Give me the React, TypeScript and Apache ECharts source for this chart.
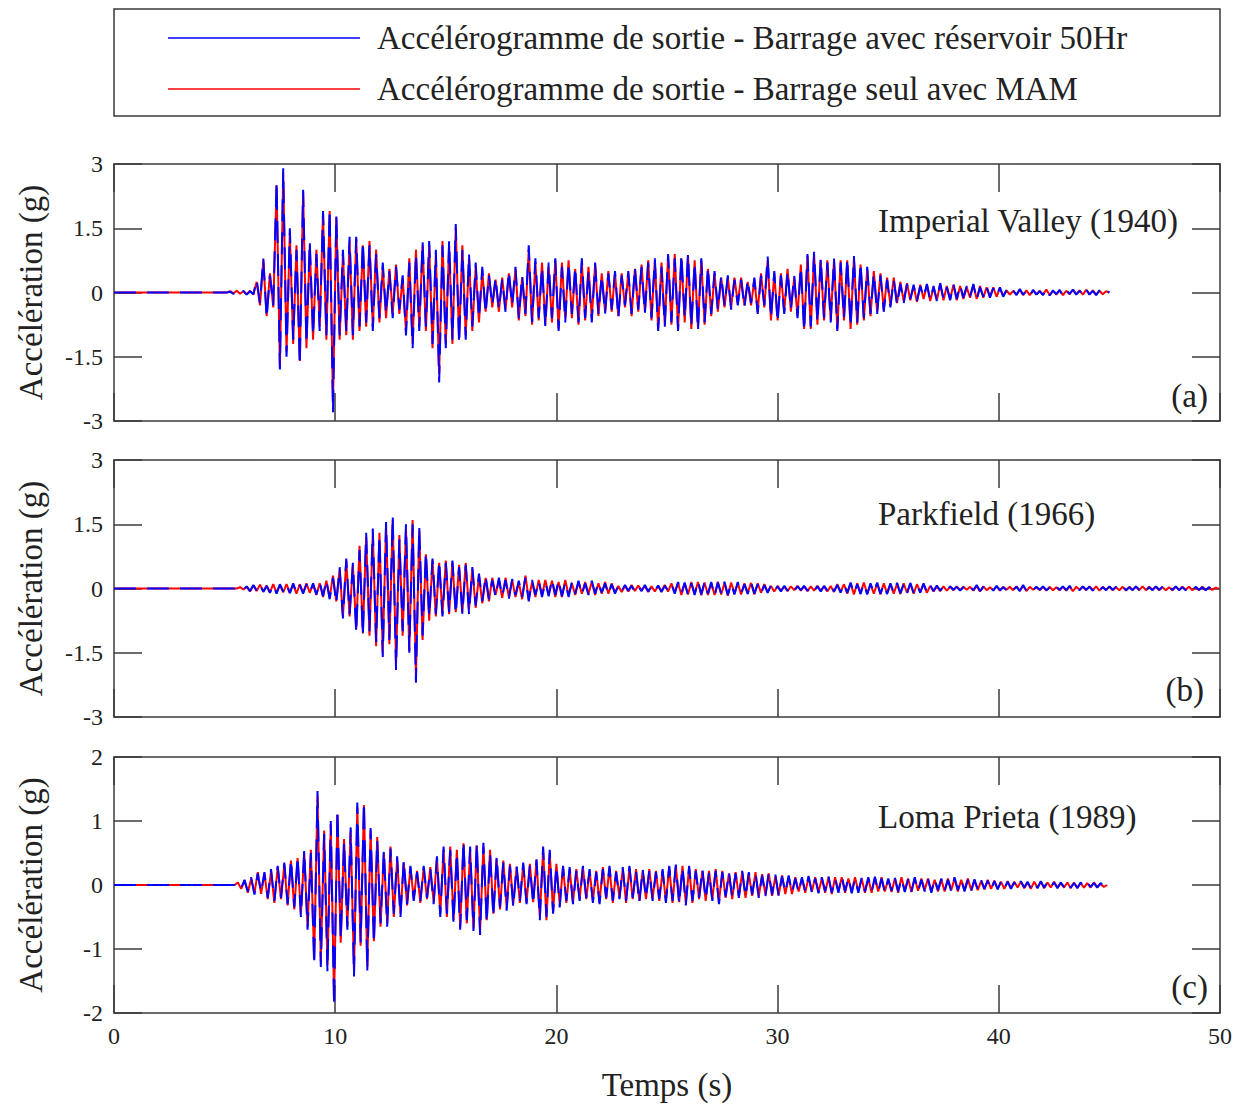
import React, { useEffect, useRef } from "react";
import * as echarts from "echarts";

// Sampling step of the output accelerograms (s)
const DT = 0.15;

// Axis ticks
const timeTicks = [0, 10, 20, 30, 40, 50];
const accelRanges = [
  { min: -3, max: 3, interval: 1.5 },
  { min: -3, max: 3, interval: 1.5 },
  { min: -2, max: 2, interval: 1 },
];

const recordNames = ["Imperial Valley (1940)", "Parkfield (1966)", "Loma Prieta (1989)"];
const panelTags = ["(a)", "(b)", "(c)"];
const legendNames = [
  "Accélérogramme de sortie - Barrage avec réservoir 50Hr",
  "Accélérogramme de sortie - Barrage seul avec MAM",
];

// Start time (s) of the first sample of each record (ground is at rest before it)
const recordStarts = [5.1, 5.7, 5.6];

// (a) Imperial Valley – dam with 50Hr reservoir
const imperialReservoir = [
  0, 0.02, -0.03, 0.03, -0.02, 0.04, -0.05, 0.03, -0.04, 0.3,
  -0.25, 0.8, -0.6, 0.4, -0.3, 2.6, -1.8, 2.9, -1.5, 1.5,
  -1.1, 1.0, -1.7, 2.4, -1.2, 1.2, -1.0, 0.9, -0.9, 1.9,
  -1.0, 1.95, -2.8, 1.8, -1.0, 1.0, -0.9, 1.3, -1.0, 1.3,
  -0.8, 1.2, -0.7, 1.1, -0.9, 0.9, -0.6, 0.7, -0.5, 0.5,
  -0.6, 0.6, -0.4, 0.4, -1.0, 0.7, -1.3, 0.9, -0.9, 1.2,
  -0.8, 1.2, -1.2, 1.0, -2.1, 1.1, -1.3, 1.2, -1.1, 1.6,
  -1.2, 1.0, -1.1, 0.9, -0.8, 0.7, -0.6, 0.6, -0.5, 0.4,
  -0.3, 0.35, -0.4, 0.3, -0.45, 0.5, -0.3, 0.6, -0.6, 0.4,
  -0.5, 1.1, -0.7, 0.8, -0.6, 0.6, -0.8, 0.7, -0.6, 0.8,
  -0.9, 0.6, -0.7, 0.7, -0.5, 0.6, -0.7, 0.8, -0.6, 0.5,
  -0.7, 0.7, -0.5, 0.4, -0.5, 0.45, -0.4, 0.5, -0.6, 0.4,
  -0.3, 0.5, -0.5, 0.6, -0.4, 0.6, -0.5, 0.7, -0.6, 0.8,
  -0.9, 0.6, -0.8, 0.9, -0.7, 0.8, -0.9, 0.9, -0.6, 0.9,
  -0.8, 0.7, -0.9, 0.8, -0.7, 0.6, -0.5, 0.5, -0.4, 0.4,
  -0.3, 0.4, -0.4, 0.3, -0.3, 0.3, -0.35, 0.3, -0.25, 0.35,
  -0.5, 0.4, -0.3, 0.85, -0.6, 0.5, -0.7, 0.4, -0.5, 0.5,
  -0.4, 0.4, -0.6, 0.6, -0.9, 0.9, -0.8, 0.95, -0.7, 0.8,
  -0.6, 0.7, -0.7, 0.8, -0.9, 0.7, -0.6, 0.8, -0.8, 0.85,
  -0.7, 0.7, -0.6, 0.6, -0.5, 0.45, -0.5, 0.4, -0.45, 0.3,
  -0.35, 0.3, -0.3, 0.2, -0.25, 0.2, -0.15, 0.18, -0.2, 0.15,
  -0.12, 0.2, -0.18, 0.15, -0.2, 0.22, -0.15, 0.12, -0.18, 0.2,
  -0.15, 0.18, -0.12, 0.15, -0.1, 0.2, -0.18, 0.12, -0.1, 0.15,
  -0.12, 0.1, -0.08, 0.12, -0.1, 0.06, -0.04, 0.05, -0.06, 0.08,
  -0.05, 0.04, -0.08, 0.06, -0.05, 0.03, -0.06, 0.09, -0.07, 0.05,
  -0.04, 0.06, -0.08, 0.05, -0.03, 0.07, -0.05, 0.04, -0.06, 0.08,
  -0.05, 0.04, -0.06, 0.05, -0.03, 0.04, 0,
];

// (a) Imperial Valley – dam alone with added masses (MAM)
const imperialMam = [
  0, 0.03, -0.02, 0.04, -0.03, 0.03, -0.04, 0.04, -0.05, 0.25,
  -0.3, 0.75, -0.55, 0.45, -0.35, 2.5, -1.75, 2.8, -1.4, 1.4,
  -1.2, 1.1, -1.6, 2.35, -1.3, 1.1, -1.1, 1.0, -0.8, 1.85,
  -1.1, 1.9, -2.6, 1.75, -1.1, 0.9, -1.0, 1.2, -1.1, 1.25,
  -0.9, 1.1, -0.8, 1.2, -0.8, 1.0, -0.7, 0.6, -0.6, 0.55,
  -0.5, 0.65, -0.5, 0.35, -0.9, 0.8, -1.2, 1.0, -0.8, 1.1,
  -0.9, 1.1, -1.3, 0.9, -1.9, 1.2, -1.2, 1.1, -1.2, 1.5,
  -1.1, 1.1, -1.0, 0.8, -0.9, 0.6, -0.7, 0.5, -0.45, 0.45,
  -0.35, 0.3, -0.45, 0.35, -0.4, 0.45, -0.35, 0.55, -0.65, 0.35,
  -0.55, 1.0, -0.75, 0.7, -0.65, 0.7, -0.75, 0.6, -0.7, 0.75,
  -0.85, 0.7, -0.6, 0.75, -0.6, 0.55, -0.75, 0.7, -0.65, 0.6,
  -0.6, 0.65, -0.55, 0.45, -0.45, 0.5, -0.45, 0.45, -0.55, 0.45,
  -0.35, 0.45, -0.55, 0.55, -0.45, 0.65, -0.45, 0.75, -0.65, 0.75,
  -0.85, 0.7, -0.75, 0.85, -0.75, 0.9, -0.85, 0.8, -0.7, 0.85,
  -0.85, 0.75, -0.8, 0.75, -0.75, 0.55, -0.55, 0.45, -0.45, 0.35,
  -0.35, 0.35, -0.35, 0.35, -0.25, 0.35, -0.3, 0.25, -0.3, 0.3,
  -0.45, 0.45, -0.35, 0.75, -0.65, 0.45, -0.65, 0.45, -0.45, 0.55,
  -0.45, 0.35, -0.55, 0.65, -0.85, 0.85, -0.85, 0.9, -0.75, 0.75,
  -0.65, 0.75, -0.65, 0.75, -0.85, 0.75, -0.65, 0.75, -0.85, 0.8,
  -0.75, 0.65, -0.65, 0.55, -0.55, 0.5, -0.45, 0.45, -0.4, 0.35,
  -0.3, 0.35, -0.25, 0.25, -0.2, 0.22, -0.18, 0.15, -0.22, 0.18,
  -0.15, 0.18, -0.2, 0.12, -0.18, 0.2, -0.18, 0.15, -0.15, 0.18,
  -0.18, 0.15, -0.15, 0.12, -0.12, 0.18, -0.15, 0.15, -0.12, 0.12,
  -0.1, 0.12, -0.1, 0.1, -0.08, 0.05, -0.05, 0.04, -0.05, 0.06,
  -0.06, 0.05, -0.06, 0.05, -0.04, 0.04, -0.05, 0.07, -0.06, 0.04,
  -0.05, 0.05, -0.06, 0.04, -0.04, 0.06, -0.04, 0.05, -0.05, 0.06,
  -0.04, 0.05, -0.05, 0.04, -0.04, 0.03, 0,
];

// (b) Parkfield – dam with 50Hr reservoir
const parkfieldReservoir = [
  0.02, -0.03, 0.05, -0.06, 0.08, -0.05, 0.1, -0.08, 0.06, -0.1,
  0.08, -0.12, 0.1, -0.07, 0.09, -0.11, 0.12, -0.1, 0.08, -0.12,
  0.1, -0.09, 0.12, -0.14, 0.15, -0.18, 0.2, -0.25, 0.25, -0.35,
  0.5, -0.7, 0.7, -0.6, 0.6, -1.05, 0.9, -1.1, 1.3, -1.0,
  1.4, -1.25, 1.25, -1.6, 1.55, -1.2, 1.7, -1.9, 1.15, -1.0,
  1.5, -1.5, 1.5, -2.2, 1.45, -1.1, 0.85, -0.65, 0.7, -0.6,
  0.65, -0.65, 0.6, -0.55, 0.65, -0.6, 0.5, -0.6, 0.55, -0.6,
  0.5, -0.4, 0.35, -0.3, 0.3, -0.25, 0.2, -0.2, 0.25, -0.18,
  0.2, -0.25, 0.22, -0.15, 0.18, -0.2, 0.25, -0.3, 0.2, -0.15,
  0.18, -0.2, 0.15, -0.18, 0.22, -0.15, 0.2, -0.18, 0.15, -0.2,
  0.15, -0.12, 0.18, -0.15, 0.12, -0.15, 0.18, -0.12, 0.15, -0.1,
  0.12, -0.15, 0.1, -0.12, 0.08, -0.06, 0.08, -0.05, 0.06, -0.08,
  0.05, -0.06, 0.08, -0.07, 0.06, -0.05, 0.07, -0.08, 0.06, -0.05,
  0.1, -0.12, 0.15, -0.12, 0.14, -0.16, 0.12, -0.15, 0.18, -0.14,
  0.16, -0.12, 0.15, -0.18, 0.14, -0.12, 0.16, -0.15, 0.12, -0.14,
  0.15, -0.12, 0.1, -0.13, 0.15, -0.12, 0.1, -0.12, 0.08, -0.1,
  0.08, -0.06, 0.05, -0.07, 0.06, -0.05, 0.04, -0.06, 0.05, -0.04,
  0.06, -0.05, 0.04, -0.06, 0.05, -0.07, 0.06, -0.05, 0.08, -0.07,
  0.08, -0.1, 0.12, -0.1, 0.14, -0.12, 0.1, -0.13, 0.12, -0.14,
  0.12, -0.1, 0.14, -0.12, 0.1, -0.13, 0.12, -0.1, 0.13, -0.11,
  0.1, -0.12, 0.13, -0.1, 0.08, -0.1, 0.12, -0.09, 0.08, -0.06,
  0.07, -0.05, 0.06, -0.04, 0.05, -0.03, 0.04, -0.05, 0.03, -0.04,
  0.05, -0.04, 0.08, -0.06, 0.04, -0.03, 0.04, -0.05, 0.06, -0.04,
  0.03, -0.04, 0.05, -0.03, 0.04, -0.06, 0.08, -0.05, 0.03, -0.04,
  0.04, -0.03, 0.05, -0.04, 0.03, -0.05, 0.04, -0.03, 0.05, -0.04,
  0.06, -0.05, 0.03, -0.04, 0.05, -0.03, 0.04, -0.05, 0.06, -0.04,
  0.03, -0.04, 0.05, -0.03, 0.04, -0.03, 0.05, -0.04, 0.03, -0.04,
  0.05, -0.03, 0.04, -0.05, 0.03, -0.04, 0.05, -0.03, 0.04, -0.03,
  0.04, -0.03, 0.05, -0.04, 0.03, -0.04, 0.03, -0.05, 0.04, -0.03,
  0.03, -0.04, 0.03, -0.02, 0.03, -0.02,
];

// (b) Parkfield – dam alone with added masses (MAM)
const parkfieldMam = [
  0.03, -0.02, 0.04, -0.07, 0.07, -0.06, 0.09, -0.07, 0.07, -0.09,
  0.1, -0.1, 0.08, -0.09, 0.1, -0.1, 0.1, -0.12, 0.1, -0.1,
  0.12, -0.1, 0.1, -0.15, 0.12, -0.2, 0.18, -0.22, 0.3, -0.3,
  0.45, -0.65, 0.65, -0.65, 0.55, -0.95, 1.0, -1.05, 1.2, -1.1,
  1.3, -1.35, 1.3, -1.5, 1.5, -1.3, 1.6, -1.75, 1.25, -1.1,
  1.4, -1.45, 1.6, -2.05, 1.35, -1.2, 0.8, -0.75, 0.65, -0.65,
  0.6, -0.6, 0.65, -0.6, 0.6, -0.55, 0.55, -0.55, 0.6, -0.5,
  0.45, -0.45, 0.3, -0.35, 0.25, -0.3, 0.25, -0.15, 0.2, -0.22,
  0.25, -0.2, 0.2, -0.2, 0.15, -0.25, 0.3, -0.25, 0.15, -0.2,
  0.2, -0.15, 0.2, -0.15, 0.18, -0.2, 0.15, -0.2, 0.2, -0.15,
  0.12, -0.15, 0.15, -0.12, 0.15, -0.12, 0.15, -0.15, 0.12, -0.12,
  0.15, -0.12, 0.12, -0.1, 0.06, -0.08, 0.06, -0.07, 0.08, -0.06,
  0.07, -0.05, 0.06, -0.08, 0.05, -0.07, 0.06, -0.06, 0.08, -0.07,
  0.12, -0.1, 0.13, -0.15, 0.12, -0.14, 0.15, -0.13, 0.15, -0.16,
  0.14, -0.15, 0.13, -0.15, 0.16, -0.14, 0.13, -0.17, 0.14, -0.12,
  0.13, -0.14, 0.12, -0.1, 0.13, -0.14, 0.12, -0.1, 0.1, -0.08,
  0.06, -0.07, 0.06, -0.05, 0.05, -0.06, 0.05, -0.04, 0.06, -0.05,
  0.05, -0.06, 0.05, -0.05, 0.06, -0.05, 0.05, -0.07, 0.06, -0.08,
  0.1, -0.08, 0.1, -0.12, 0.12, -0.14, 0.12, -0.11, 0.14, -0.12,
  0.1, -0.12, 0.12, -0.14, 0.12, -0.11, 0.1, -0.12, 0.11, -0.13,
  0.12, -0.1, 0.11, -0.12, 0.1, -0.08, 0.1, -0.1, 0.06, -0.07,
  0.05, -0.06, 0.05, -0.05, 0.04, -0.04, 0.05, -0.04, 0.04, -0.03,
  0.04, -0.05, 0.06, -0.07, 0.05, -0.04, 0.03, -0.04, 0.05, -0.05,
  0.04, -0.03, 0.04, -0.04, 0.05, -0.05, 0.06, -0.06, 0.04, -0.03,
  0.03, -0.04, 0.04, -0.05, 0.04, -0.04, 0.03, -0.04, 0.04, -0.05,
  0.05, -0.06, 0.04, -0.03, 0.04, -0.04, 0.05, -0.04, 0.05, -0.05,
  0.04, -0.03, 0.04, -0.04, 0.03, -0.04, 0.04, -0.05, 0.04, -0.03,
  0.04, -0.04, 0.05, -0.04, 0.04, -0.03, 0.04, -0.04, 0.03, -0.04,
  0.03, -0.04, 0.04, -0.03, 0.04, -0.03, 0.04, -0.04, 0.03, -0.04,
  0.04, -0.03, 0.02, -0.03, 0.02, -0.01,
];

// (c) Loma Prieta – dam with 50Hr reservoir
const lomaReservoir = [
  0.03, -0.05, 0.08, -0.1, 0.12, -0.15, 0.18, -0.12, 0.2, -0.2,
  0.25, -0.25, 0.3, -0.2, 0.35, -0.3, 0.4, -0.35, 0.45, -0.5,
  0.55, -0.7, 0.5, -1.25, 1.47, -1.28, 0.8, -1.35, 1.0, -1.9,
  1.18, -0.85, 0.68, -0.7, 0.9, -1.43, 1.29, -0.9, 1.3, -1.35,
  0.89, -0.92, 0.7, -0.6, 0.55, -0.65, 0.57, -0.45, 0.45, -0.5,
  0.39, -0.3, 0.3, -0.25, 0.2, -0.25, 0.3, -0.2, 0.25, -0.3,
  0.45, -0.5, 0.6, -0.45, 0.55, -0.6, 0.5, -0.7, 0.69, -0.55,
  0.6, -0.72, 0.66, -0.78, 0.66, -0.6, 0.5, -0.5, 0.45, -0.35,
  0.35, -0.4, 0.3, -0.35, 0.3, -0.25, 0.35, -0.3, 0.3, -0.3,
  0.4, -0.55, 0.6, -0.5, 0.55, -0.45, 0.3, -0.35, 0.3, -0.25,
  0.28, -0.3, 0.22, -0.25, 0.3, -0.2, 0.25, -0.28, 0.2, -0.3,
  0.25, -0.2, 0.3, -0.25, 0.2, -0.22, 0.28, -0.25, 0.3, -0.2,
  0.22, -0.28, 0.25, -0.2, 0.22, -0.25, 0.2, -0.22, 0.25, -0.28,
  0.3, -0.25, 0.32, -0.3, 0.28, -0.32, 0.3, -0.25, 0.22, -0.2,
  0.25, -0.22, 0.2, -0.25, 0.22, -0.3, 0.2, -0.18, 0.2, -0.2,
  0.18, -0.2, 0.22, -0.18, 0.2, -0.15, 0.18, -0.2, 0.15, -0.18,
  0.2, -0.15, 0.16, -0.18, 0.14, -0.12, 0.15, -0.12, 0.1, -0.12,
  0.12, -0.1, 0.14, -0.12, 0.1, -0.13, 0.12, -0.1, 0.14, -0.12,
  0.1, -0.12, 0.14, -0.1, 0.12, -0.13, 0.1, -0.12, 0.11, -0.1,
  0.12, -0.1, 0.13, -0.11, 0.1, -0.12, 0.1, -0.09, 0.12, -0.1,
  0.1, -0.11, 0.09, -0.1, 0.12, -0.1, 0.08, -0.1, 0.09, -0.12,
  0.1, -0.08, 0.1, -0.09, 0.08, -0.1, 0.12, -0.08, 0.09, -0.1,
  0.08, -0.1, 0.09, -0.07, 0.08, -0.06, 0.07, -0.08, 0.06, -0.07,
  0.06, -0.05, 0.05, -0.06, 0.04, -0.05, 0.06, -0.04, 0.05, -0.05,
  0.04, -0.05, 0.06, -0.04, 0.05, -0.03, 0.04, -0.05, 0.04, -0.03,
  0.05, -0.04, 0.03, -0.05, 0.04, -0.03, 0.04, -0.03, 0.03, -0.04,
  0.03, -0.02, 0,
];

// (c) Loma Prieta – dam alone with added masses (MAM)
const lomaMam = [
  0.04, -0.06, 0.07, -0.12, 0.1, -0.13, 0.2, -0.14, 0.18, -0.22,
  0.22, -0.28, 0.28, -0.22, 0.32, -0.32, 0.38, -0.38, 0.42, -0.45,
  0.5, -0.65, 0.55, -1.15, 1.4, -1.2, 0.85, -1.25, 0.95, -1.8,
  1.1, -0.9, 0.72, -0.65, 0.85, -1.35, 1.22, -0.95, 1.25, -1.28,
  0.85, -0.88, 0.75, -0.65, 0.5, -0.6, 0.6, -0.5, 0.4, -0.45,
  0.35, -0.32, 0.28, -0.22, 0.22, -0.28, 0.27, -0.22, 0.28, -0.27,
  0.42, -0.45, 0.55, -0.5, 0.6, -0.55, 0.55, -0.65, 0.65, -0.6,
  0.55, -0.68, 0.62, -0.72, 0.6, -0.55, 0.55, -0.45, 0.4, -0.38,
  0.38, -0.35, 0.33, -0.3, 0.28, -0.28, 0.32, -0.28, 0.33, -0.27,
  0.38, -0.5, 0.55, -0.55, 0.5, -0.42, 0.33, -0.3, 0.28, -0.28,
  0.25, -0.28, 0.25, -0.22, 0.28, -0.22, 0.22, -0.25, 0.22, -0.27,
  0.28, -0.22, 0.27, -0.28, 0.22, -0.2, 0.25, -0.28, 0.27, -0.22,
  0.25, -0.25, 0.22, -0.22, 0.25, -0.22, 0.22, -0.25, 0.22, -0.25,
  0.28, -0.28, 0.3, -0.27, 0.3, -0.28, 0.27, -0.28, 0.25, -0.22,
  0.22, -0.25, 0.22, -0.22, 0.25, -0.27, 0.22, -0.2, 0.18, -0.22,
  0.2, -0.18, 0.2, -0.2, 0.18, -0.17, 0.2, -0.18, 0.17, -0.15,
  0.18, -0.17, 0.14, -0.16, 0.15, -0.14, 0.13, -0.14, 0.12, -0.1,
  0.1, -0.12, 0.12, -0.1, 0.12, -0.11, 0.1, -0.12, 0.12, -0.14,
  0.12, -0.1, 0.12, -0.12, 0.1, -0.11, 0.12, -0.1, 0.1, -0.12,
  0.1, -0.12, 0.11, -0.1, 0.12, -0.1, 0.09, -0.11, 0.1, -0.12,
  0.12, -0.09, 0.1, -0.11, 0.1, -0.09, 0.1, -0.08, 0.1, -0.1,
  0.08, -0.1, 0.09, -0.1, 0.1, -0.08, 0.1, -0.1, 0.08, -0.08,
  0.1, -0.08, 0.07, -0.08, 0.06, -0.07, 0.08, -0.06, 0.07, -0.06,
  0.05, -0.06, 0.06, -0.05, 0.05, -0.04, 0.05, -0.05, 0.04, -0.06,
  0.05, -0.04, 0.05, -0.05, 0.04, -0.04, 0.05, -0.04, 0.03, -0.04,
  0.04, -0.05, 0.04, -0.04, 0.03, -0.04, 0.03, -0.04, 0.04, -0.03,
  0.02, -0.03, 0,
];

const reservoirRecords = [imperialReservoir, parkfieldReservoir, lomaReservoir];
const mamRecords = [imperialMam, parkfieldMam, lomaMam];

const SERIF = '"Liberation Serif", "Times New Roman", serif';
const INK = "#222";
const FRAME = "#3a3a3a";
const BLUE = "#0000ff";
const RED = "#ff0000";
const TEXT_SIZE = 33;
const TICK_SIZE = 24;

// Panel frames (pixels)
const PLOT_LEFT = 114;
const PLOT_WIDTH = 1106;
const panelTops = [164, 460, 757];
const panelHeights = [257, 257, 256];

function toSeriesData(start: number, values: number[]): number[][] {
  const pts: number[][] = [[0, 0], [start - DT, 0]];
  values.forEach((v, i) => pts.push([+(start + i * DT).toFixed(3), v]));
  return pts;
}

function buildOption() {
  const grid: any[] = [];
  const xAxis: any[] = [];
  const yAxis: any[] = [];
  const series: any[] = [];
  const graphic: any[] = [];

  const axisLine = { show: true, onZero: false, lineStyle: { color: FRAME, width: 1.5 } };
  const axisTick = { show: true, inside: true, length: 28, lineStyle: { color: FRAME, width: 1.5 } };

  for (let g = 0; g < 3; g++) {
    const top = panelTops[g];
    const h = panelHeights[g];
    grid.push({ left: PLOT_LEFT, top, width: PLOT_WIDTH, height: h, containLabel: false });

    const last = g === 2;
    const xBase = {
      gridIndex: g,
      type: "value",
      min: timeTicks[0],
      max: timeTicks[timeTicks.length - 1],
      interval: 10,
      axisLine,
      axisTick,
      splitLine: { show: false },
    };
    xAxis.push({
      ...xBase,
      position: "bottom",
      axisLabel: {
        show: last,
        color: INK,
        fontFamily: SERIF,
        fontSize: TICK_SIZE,
        margin: 11,
      },
      ...(last
        ? {
            name: "Temps (s)",
            nameLocation: "middle",
            nameGap: 55,
            nameTextStyle: { color: INK, fontFamily: SERIF, fontSize: TEXT_SIZE },
          }
        : {}),
    });
    xAxis.push({ ...xBase, position: "top", axisLabel: { show: false } });

    const r = accelRanges[g];
    const yBase = {
      gridIndex: g,
      type: "value",
      min: r.min,
      max: r.max,
      interval: r.interval,
      axisLine,
      axisTick,
      splitLine: { show: false },
    };
    yAxis.push({
      ...yBase,
      position: "left",
      axisLabel: { color: INK, fontFamily: SERIF, fontSize: TICK_SIZE, margin: 11 },
      name: "Accélération (g)",
      nameLocation: "middle",
      nameGap: 67,
      nameRotate: 90,
      nameTextStyle: { color: INK, fontFamily: SERIF, fontSize: TEXT_SIZE },
    });
    yAxis.push({ ...yBase, position: "right", axisLabel: { show: false } });

    series.push({
      name: legendNames[1],
      type: "line",
      xAxisIndex: 2 * g,
      yAxisIndex: 2 * g,
      data: toSeriesData(recordStarts[g], mamRecords[g]),
      showSymbol: false,
      symbol: "none",
      lineStyle: { color: RED, width: 2 },
      z: 2,
    });
    series.push({
      name: legendNames[0],
      type: "line",
      xAxisIndex: 2 * g,
      yAxisIndex: 2 * g,
      data: toSeriesData(recordStarts[g], reservoirRecords[g]),
      showSymbol: false,
      symbol: "none",
      lineStyle: { color: BLUE, width: 2, type: [22, 11] },
      z: 3,
    });
  }

  // Record names and panel tags
  const nameY = [221, 514, 817];
  const tagY = [396, 690, 987];
  const tagRight = [1208, 1204, 1208];
  for (let g = 0; g < 3; g++) {
    graphic.push({
      type: "text",
      x: 878,
      y: nameY[g],
      style: { text: recordNames[g], fill: INK, font: `${TEXT_SIZE}px ${SERIF}`, align: "left", verticalAlign: "middle" },
    });
    graphic.push({
      type: "text",
      x: tagRight[g],
      y: tagY[g],
      style: { text: panelTags[g], fill: INK, font: `${TEXT_SIZE}px ${SERIF}`, align: "right", verticalAlign: "middle" },
    });
  }

  // Legend box
  graphic.push({
    type: "rect",
    shape: { x: 114, y: 9, width: 1106, height: 107 },
    style: { fill: "#fff", stroke: FRAME, lineWidth: 1.5 },
  });
  const legendColors = [BLUE, RED];
  const legendY = [38, 89];
  for (let k = 0; k < 2; k++) {
    graphic.push({
      type: "line",
      shape: { x1: 168, y1: legendY[k], x2: 360, y2: legendY[k] },
      style: { stroke: legendColors[k], lineWidth: 1.5 },
    });
    graphic.push({
      type: "text",
      x: 377,
      y: legendY[k],
      style: { text: legendNames[k], fill: INK, font: `${TEXT_SIZE}px ${SERIF}`, align: "left", verticalAlign: "middle" },
    });
  }

  return {
    animation: false,
    backgroundColor: "#fff",
    grid,
    xAxis,
    yAxis,
    series,
    graphic,
  };
}

export default function App() {
  const ref = useRef<HTMLDivElement>(null);
  useEffect(() => {
    document.body.style.margin = "0";
    if (!ref.current) return;
    const chart = echarts.init(ref.current, undefined, { renderer: "svg" });
    chart.setOption(buildOption() as any);
    return () => chart.dispose();
  }, []);
  return <div ref={ref} style={{ width: 1242, height: 1105 }} />;
}
